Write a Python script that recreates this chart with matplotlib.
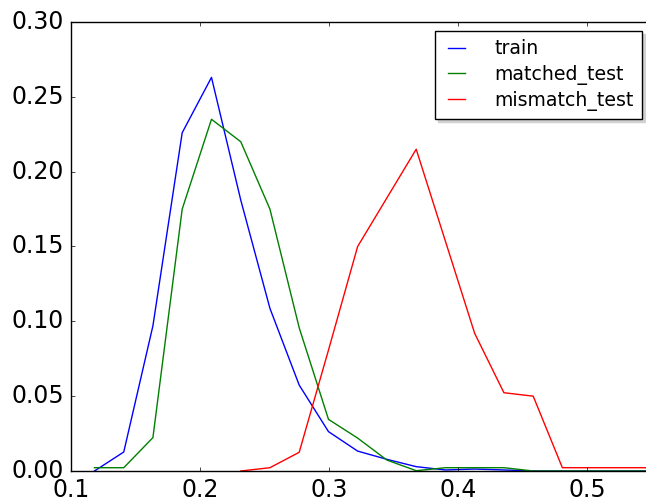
import matplotlib
matplotlib.use("Agg")
import matplotlib.pyplot as plt
import numpy as np

plt.style.use("classic")

# bin centres
x = [0.1182, 0.1409, 0.1635, 0.1862, 0.2089, 0.2316, 0.2542, 0.2769, 0.2996, 0.3222,
     0.3449, 0.3676, 0.3903, 0.4129, 0.4356, 0.4583, 0.4809, 0.5036, 0.5263, 0.5489]

train = [0.0, 0.0127, 0.097, 0.226, 0.263, 0.181, 0.1087, 0.0574, 0.0263, 0.0133,
         0.0078, 0.0029, 0.0007, 0.0013, 0.0007, 0.0, 0.0, 0.0, 0.0, 0.0]
matched_test = [0.0022, 0.0022, 0.0223, 0.175, 0.235, 0.220, 0.175, 0.0957, 0.0345, 0.022,
                0.0073, 0.0002, 0.0022, 0.0022, 0.0022, 0.0, 0.0, 0.0, 0.0, 0.0]
# mismatch series starts at the 6th bin
mismatch_start = 5
mismatch_test = [0.0, 0.0022, 0.0125, 0.0808, 0.150, 0.1825, 0.215, 0.1534, 0.092, 0.0523,
                 0.050, 0.0022, 0.0022, 0.0022, 0.0022]

labels = ["train", "matched_test", "mismatch_test"]

W, H = 646, 500
fig = plt.figure(figsize=(W / 100, H / 100), dpi=100, facecolor="white")
ax = fig.add_axes([71 / W, 29 / H, (651.5 - 71) / W, (471 - 22) / H])

ax.plot(x, train, color="b", lw=1.0, label=labels[0])
ax.plot(x, matched_test, color="g", lw=1.0, label=labels[1])
ax.plot(x[mismatch_start:], mismatch_test, color="r", lw=1.0, label=labels[2])

ax.set_xlim(0.1, 0.55)
ax.set_ylim(0.0, 0.30)
ax.set_xticks([0.1, 0.2, 0.3, 0.4, 0.5])
ax.set_yticks([0.0, 0.05, 0.10, 0.15, 0.20, 0.25, 0.30])
ax.set_yticklabels(["0.00", "0.05", "0.10", "0.15", "0.20", "0.25", "0.30"])
ax.tick_params(labelsize=17, length=3, direction="in", top=True, right=True, pad=5)

leg = ax.legend(loc="upper right", fontsize=13.6, handlelength=1.45, handletextpad=1.3,
                borderpad=0.42, labelspacing=0.33, borderaxespad=0.5,
                shadow={"color": "0.82", "alpha": 1.0}, fancybox=False, numpoints=2)
leg.get_frame().set_linewidth(1.0)

fig.savefig("out.png", dpi=100, facecolor="white")
